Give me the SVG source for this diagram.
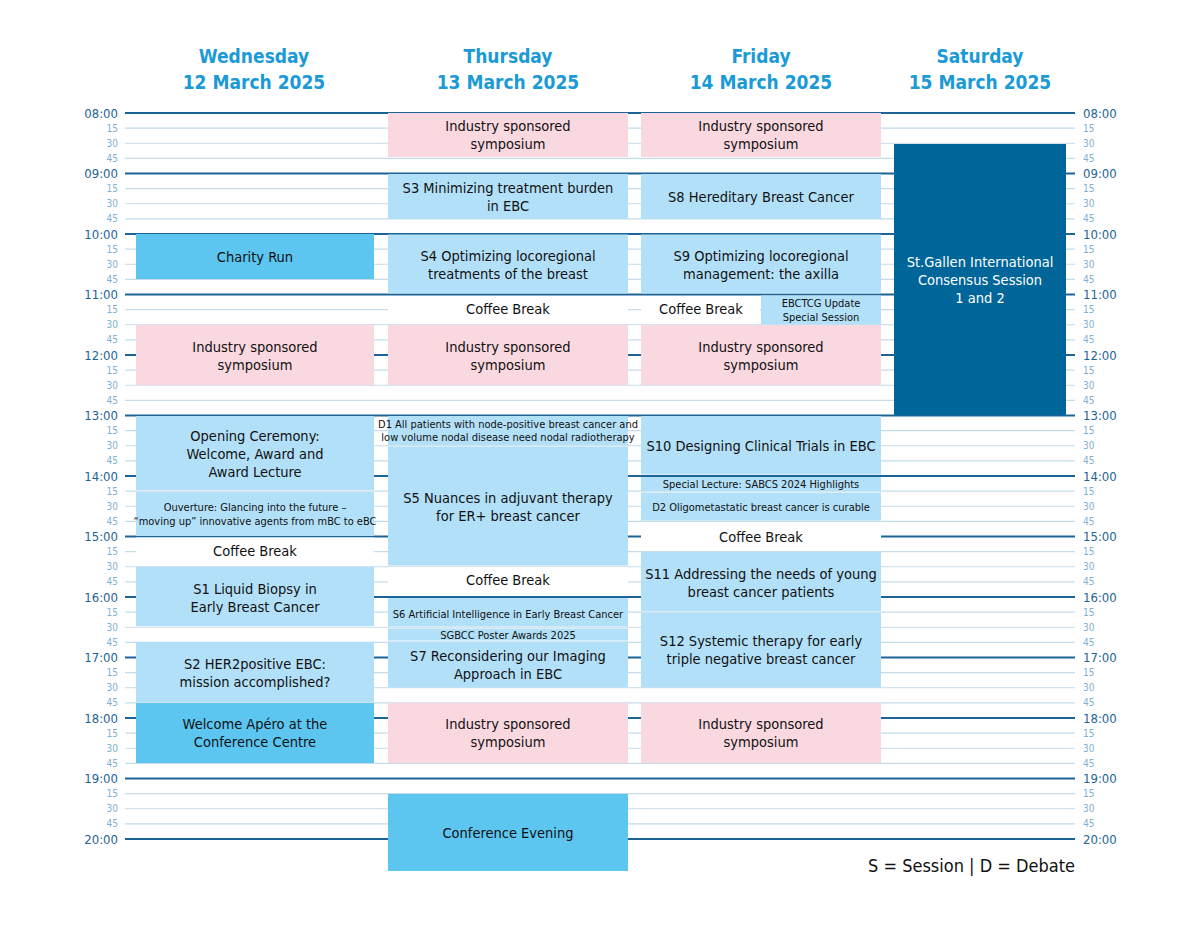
<svg xmlns="http://www.w3.org/2000/svg" width="1200" height="925" viewBox="0 0 1200 925">
<style>
text{font-family:"DejaVu Sans Condensed","Liberation Sans",sans-serif;font-stretch:condensed}
.h{stroke:#1d6496;stroke-width:2.2}
.q{stroke:#c4dbea;stroke-width:1.2}
.hd{fill:#1a9ad6;font-size:19px;font-weight:bold;text-anchor:middle}
.tl{fill:#1d6496;font-size:13px;text-anchor:end}
.tq{fill:#7fb0d2;font-size:10px;text-anchor:end}
.rl{text-anchor:start}
.lb{fill:#b2e0f8}.pk{fill:#f9d8e0}.bb{fill:#5cc6f1}.db{fill:#00669a}.wh{fill:#fff}
.t{font-size:14.5px;fill:#111;text-anchor:middle}
.s{font-size:11px;fill:#111;text-anchor:middle}
.w{font-size:14.5px;fill:#fff;text-anchor:middle}
</style>
<g id="headers">
<text class="hd" x="254" y="63">Wednesday</text><text class="hd" x="254" y="89">12 March 2025</text>
<text class="hd" x="508" y="63">Thursday</text><text class="hd" x="508" y="89">13 March 2025</text>
<text class="hd" x="761" y="63">Friday</text><text class="hd" x="761" y="89">14 March 2025</text>
<text class="hd" x="980" y="63">Saturday</text><text class="hd" x="980" y="89">15 March 2025</text>
</g>
<g id="grid">
<g class="q">
<line x1="125" x2="1075" y1="128.1" y2="128.1"/><line x1="125" x2="1075" y1="143.25" y2="143.25"/><line x1="125" x2="1075" y1="158.4" y2="158.4"/>
<line x1="125" x2="1075" y1="188.6" y2="188.6"/><line x1="125" x2="1075" y1="203.75" y2="203.75"/><line x1="125" x2="1075" y1="218.9" y2="218.9"/>
<line x1="125" x2="1075" y1="249.1" y2="249.1"/><line x1="125" x2="1075" y1="264.25" y2="264.25"/><line x1="125" x2="1075" y1="279.4" y2="279.4"/>
<line x1="125" x2="1075" y1="309.6" y2="309.6"/><line x1="125" x2="1075" y1="324.75" y2="324.75"/><line x1="125" x2="1075" y1="339.9" y2="339.9"/>
<line x1="125" x2="1075" y1="370.1" y2="370.1"/><line x1="125" x2="1075" y1="385.25" y2="385.25"/><line x1="125" x2="1075" y1="400.4" y2="400.4"/>
<line x1="125" x2="1075" y1="430.6" y2="430.6"/><line x1="125" x2="1075" y1="445.75" y2="445.75"/><line x1="125" x2="1075" y1="460.9" y2="460.9"/>
<line x1="125" x2="1075" y1="491.1" y2="491.1"/><line x1="125" x2="1075" y1="506.25" y2="506.25"/><line x1="125" x2="1075" y1="521.4" y2="521.4"/>
<line x1="125" x2="1075" y1="551.6" y2="551.6"/><line x1="125" x2="1075" y1="566.75" y2="566.75"/><line x1="125" x2="1075" y1="581.9" y2="581.9"/>
<line x1="125" x2="1075" y1="612.1" y2="612.1"/><line x1="125" x2="1075" y1="627.25" y2="627.25"/><line x1="125" x2="1075" y1="642.4" y2="642.4"/>
<line x1="125" x2="1075" y1="672.6" y2="672.6"/><line x1="125" x2="1075" y1="687.75" y2="687.75"/><line x1="125" x2="1075" y1="702.9" y2="702.9"/>
<line x1="125" x2="1075" y1="733.1" y2="733.1"/><line x1="125" x2="1075" y1="748.25" y2="748.25"/><line x1="125" x2="1075" y1="763.4" y2="763.4"/>
<line x1="125" x2="1075" y1="793.6" y2="793.6"/><line x1="125" x2="1075" y1="808.75" y2="808.75"/><line x1="125" x2="1075" y1="823.9" y2="823.9"/>
</g>
<g class="h">
<line x1="125" x2="1075" y1="113" y2="113"/><line x1="125" x2="1075" y1="173.5" y2="173.5"/><line x1="125" x2="1075" y1="234" y2="234"/><line x1="125" x2="1075" y1="294.5" y2="294.5"/><line x1="125" x2="1075" y1="355" y2="355"/><line x1="125" x2="1075" y1="415.5" y2="415.5"/><line x1="125" x2="1075" y1="476" y2="476"/><line x1="125" x2="1075" y1="536.5" y2="536.5"/><line x1="125" x2="1075" y1="597" y2="597"/><line x1="125" x2="1075" y1="657.5" y2="657.5"/><line x1="125" x2="1075" y1="718" y2="718"/><line x1="125" x2="1075" y1="778.5" y2="778.5"/><line x1="125" x2="1075" y1="839" y2="839"/>
</g>
</g>
<g id="timelabels">
<g class="tl">
<text x="118" y="118">08:00</text><text x="118" y="178">09:00</text><text x="118" y="239">10:00</text><text x="118" y="299">11:00</text><text x="118" y="360">12:00</text><text x="118" y="420">13:00</text><text x="118" y="481">14:00</text><text x="118" y="541">15:00</text><text x="118" y="602">16:00</text><text x="118" y="662">17:00</text><text x="118" y="723">18:00</text><text x="118" y="783">19:00</text><text x="118" y="844">20:00</text>
</g>
<g class="tl rl">
<text x="1083" y="118">08:00</text><text x="1083" y="178">09:00</text><text x="1083" y="239">10:00</text><text x="1083" y="299">11:00</text><text x="1083" y="360">12:00</text><text x="1083" y="420">13:00</text><text x="1083" y="481">14:00</text><text x="1083" y="541">15:00</text><text x="1083" y="602">16:00</text><text x="1083" y="662">17:00</text><text x="1083" y="723">18:00</text><text x="1083" y="783">19:00</text><text x="1083" y="844">20:00</text>
</g>
<g class="tq">
<text x="118" y="132">15</text><text x="118" y="147">30</text><text x="118" y="162">45</text>
<text x="118" y="192">15</text><text x="118" y="207">30</text><text x="118" y="222">45</text>
<text x="118" y="253">15</text><text x="118" y="268">30</text><text x="118" y="283">45</text>
<text x="118" y="313">15</text><text x="118" y="328">30</text><text x="118" y="343">45</text>
<text x="118" y="374">15</text><text x="118" y="389">30</text><text x="118" y="404">45</text>
<text x="118" y="434">15</text><text x="118" y="449">30</text><text x="118" y="464">45</text>
<text x="118" y="495">15</text><text x="118" y="510">30</text><text x="118" y="525">45</text>
<text x="118" y="555">15</text><text x="118" y="570">30</text><text x="118" y="585">45</text>
<text x="118" y="616">15</text><text x="118" y="631">30</text><text x="118" y="646">45</text>
<text x="118" y="676">15</text><text x="118" y="691">30</text><text x="118" y="706">45</text>
<text x="118" y="737">15</text><text x="118" y="752">30</text><text x="118" y="767">45</text>
<text x="118" y="797">15</text><text x="118" y="812">30</text><text x="118" y="827">45</text>
</g>
<g class="tq rl">
<text x="1083" y="132">15</text><text x="1083" y="147">30</text><text x="1083" y="162">45</text>
<text x="1083" y="192">15</text><text x="1083" y="207">30</text><text x="1083" y="222">45</text>
<text x="1083" y="253">15</text><text x="1083" y="268">30</text><text x="1083" y="283">45</text>
<text x="1083" y="313">15</text><text x="1083" y="328">30</text><text x="1083" y="343">45</text>
<text x="1083" y="374">15</text><text x="1083" y="389">30</text><text x="1083" y="404">45</text>
<text x="1083" y="434">15</text><text x="1083" y="449">30</text><text x="1083" y="464">45</text>
<text x="1083" y="495">15</text><text x="1083" y="510">30</text><text x="1083" y="525">45</text>
<text x="1083" y="555">15</text><text x="1083" y="570">30</text><text x="1083" y="585">45</text>
<text x="1083" y="616">15</text><text x="1083" y="631">30</text><text x="1083" y="646">45</text>
<text x="1083" y="676">15</text><text x="1083" y="691">30</text><text x="1083" y="706">45</text>
<text x="1083" y="737">15</text><text x="1083" y="752">30</text><text x="1083" y="767">45</text>
<text x="1083" y="797">15</text><text x="1083" y="812">30</text><text x="1083" y="827">45</text>
</g>
</g>
<g id="wednesday">
<g id="wed-charity"><rect class="bb" x="136" y="234" width="238" height="45"/><text class="t" x="255" y="262">Charity Run</text></g>
<g id="wed-industry"><rect class="pk" x="136" y="325" width="238" height="60"/><text class="t" x="255" y="352">Industry sponsored</text><text class="t" x="255" y="370">symposium</text></g>
<g id="wed-opening"><rect class="lb" x="136" y="416" width="238" height="74"/><text class="t" x="255" y="441">Opening Ceremony:</text><text class="t" x="255" y="459">Welcome, Award and</text><text class="t" x="255" y="477">Award Lecture</text></g>
<g id="wed-ouverture"><rect class="lb" x="136" y="492" width="238" height="44"/><text class="s" x="255" y="511">Ouverture: Glancing into the future –</text><text class="s" x="255" y="525">“moving up” innovative agents from mBC to eBC</text></g>
<g id="wed-coffee"><rect class="wh" x="136" y="537.5" width="238" height="28"/><text class="t" x="255" y="556">Coffee Break</text></g>
<g id="wed-s1"><rect class="lb" x="136" y="567" width="238" height="59"/><text class="t" x="255" y="594">S1 Liquid Biopsy in</text><text class="t" x="255" y="612">Early Breast Cancer</text></g>
<g id="wed-s2"><rect class="lb" x="136" y="642" width="238" height="60"/><text class="t" x="255" y="669">S2 HER2positive EBC:</text><text class="t" x="255" y="687">mission accomplished?</text></g>
<g id="wed-apero"><rect class="bb" x="136" y="703" width="238" height="60"/><text class="t" x="255" y="729">Welcome Apéro at the</text><text class="t" x="255" y="747">Conference Centre</text></g>
</g>
<g id="thursday">
<g id="thu-industry1"><rect class="pk" x="388" y="113" width="240" height="44"/><text class="t" x="508" y="131">Industry sponsored</text><text class="t" x="508" y="149">symposium</text></g>
<g id="thu-s3"><rect class="lb" x="388" y="174" width="240" height="45"/><text class="t" x="508" y="193">S3 Minimizing treatment burden</text><text class="t" x="508" y="211">in EBC</text></g>
<g id="thu-s4"><rect class="lb" x="388" y="234.5" width="240" height="59"/><text class="t" x="508" y="261">S4 Optimizing locoregional</text><text class="t" x="508" y="279">treatments of the breast</text></g>
<g id="thu-coffee"><rect class="wh" x="388" y="296" width="240" height="28"/><text class="t" x="508" y="314">Coffee Break</text></g>
<g id="thu-industry2"><rect class="pk" x="388" y="325" width="240" height="60"/><text class="t" x="508" y="352">Industry sponsored</text><text class="t" x="508" y="370">symposium</text></g>
<g id="thu-d1"><rect class="lb" x="388" y="416" width="240" height="29"/><text class="s" x="508" y="428">D1 All patients with node-positive breast cancer and</text><text class="s" x="508" y="441">low volume nodal disease need nodal radiotherapy</text></g>
<g id="thu-s5"><rect class="lb" x="388" y="446.5" width="240" height="119"/><text class="t" x="508" y="503">S5 Nuances in adjuvant therapy</text><text class="t" x="508" y="521">for ER+ breast cancer</text></g>
<g id="thu-coffee2"><rect class="wh" x="388" y="567" width="240" height="29"/><text class="t" x="508" y="585">Coffee Break</text></g>
<g id="thu-s6"><rect class="lb" x="388" y="598" width="240" height="28.5"/><text class="s" x="508" y="618">S6 Artificial Intelligence in Early Breast Cancer</text></g>
<g id="thu-poster"><rect class="lb" x="388" y="628.5" width="240" height="12"/><text class="s" x="508" y="639">SGBCC Poster Awards 2025</text></g>
<g id="thu-s7"><rect class="lb" x="388" y="641.5" width="240" height="46"/><text class="t" x="508" y="661">S7 Reconsidering our Imaging</text><text class="t" x="508" y="679">Approach in EBC</text></g>
<g id="thu-industry3"><rect class="pk" x="388" y="703" width="240" height="60"/><text class="t" x="508" y="729">Industry sponsored</text><text class="t" x="508" y="747">symposium</text></g>
<g id="thu-evening"><rect class="bb" x="388" y="794" width="240" height="77"/><text class="t" x="508" y="838">Conference Evening</text></g>
</g>
<g id="friday">
<g id="fri-industry1"><rect class="pk" x="641" y="113" width="240" height="44"/><text class="t" x="761" y="131">Industry sponsored</text><text class="t" x="761" y="149">symposium</text></g>
<g id="fri-s8"><rect class="lb" x="641" y="174" width="240" height="45"/><text class="t" x="761" y="202">S8 Hereditary Breast Cancer</text></g>
<g id="fri-s9"><rect class="lb" x="641" y="234.5" width="240" height="59"/><text class="t" x="761" y="261">S9 Optimizing locoregional</text><text class="t" x="761" y="279">management: the axilla</text></g>
<g id="fri-coffee"><rect class="wh" x="641" y="296" width="119" height="28"/><text class="t" x="701" y="314">Coffee Break</text></g>
<g id="fri-ebctcg"><rect class="lb" x="761" y="295.5" width="120" height="29"/><text class="s" x="821" y="307">EBCTCG Update</text><text class="s" x="821" y="321">Special Session</text></g>
<g id="fri-industry2"><rect class="pk" x="641" y="325" width="240" height="60"/><text class="t" x="761" y="352">Industry sponsored</text><text class="t" x="761" y="370">symposium</text></g>
<g id="fri-s10"><rect class="lb" x="641" y="416" width="240" height="58.5"/><text class="t" x="761" y="451">S10 Designing Clinical Trials in EBC</text></g>
<g id="fri-special"><rect class="lb" x="641" y="477" width="240" height="14"/><text class="s" x="761" y="488">Special Lecture: SABCS 2024 Highlights</text></g>
<g id="fri-d2"><rect class="lb" x="641" y="492.5" width="240" height="28"/><text class="s" x="761" y="511">D2 Oligometastatic breast cancer is curable</text></g>
<g id="fri-coffee2"><rect class="wh" x="641" y="522" width="240" height="29"/><text class="t" x="761" y="542">Coffee Break</text></g>
<g id="fri-s11"><rect class="lb" x="641" y="552" width="240" height="59"/><text class="t" x="761" y="579">S11 Addressing the needs of young</text><text class="t" x="761" y="597">breast cancer patients</text></g>
<g id="fri-s12"><rect class="lb" x="641" y="612.5" width="240" height="75"/><text class="t" x="761" y="646">S12 Systemic therapy for early</text><text class="t" x="761" y="664">triple negative breast cancer</text></g>
<g id="fri-industry3"><rect class="pk" x="641" y="703" width="240" height="60"/><text class="t" x="761" y="729">Industry sponsored</text><text class="t" x="761" y="747">symposium</text></g>
</g>
<g id="saturday">
<g id="sat-consensus"><rect class="db" x="894" y="144" width="172" height="271"/><text class="w" x="980" y="267">St.Gallen International</text><text class="w" x="980" y="285">Consensus Session</text><text class="w" x="980" y="303">1 and 2</text></g>
</g>
<g id="connectors"/>
<text x="1075" y="872" font-size="18" fill="#111" text-anchor="end">S = Session | D = Debate</text>
</svg>
